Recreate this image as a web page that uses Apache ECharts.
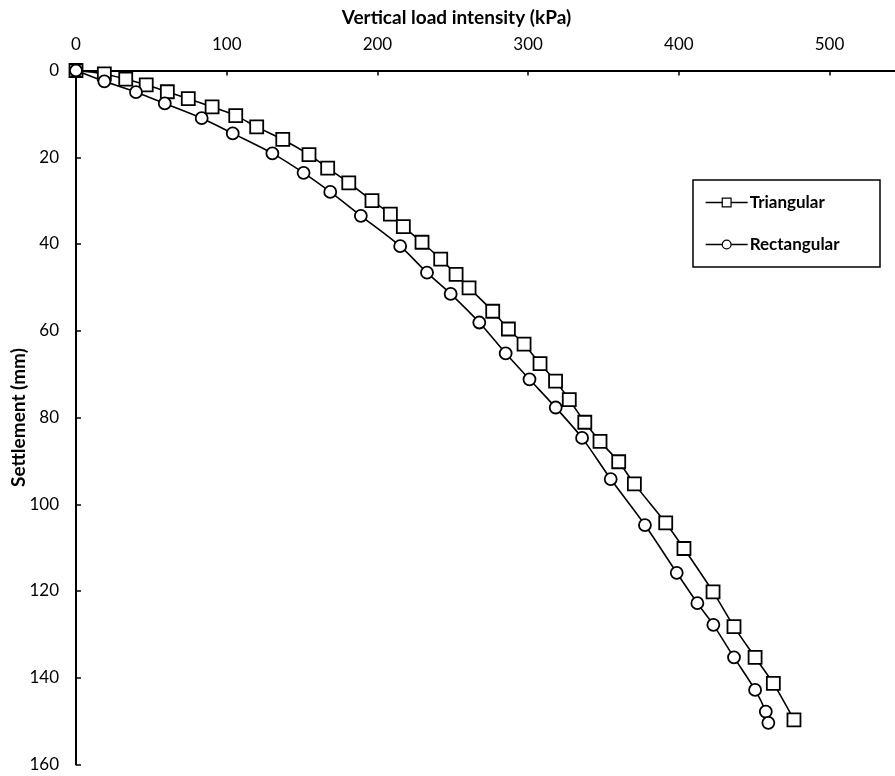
<!DOCTYPE html>
<html>
<head>
<meta charset="utf-8">
<title>Load–settlement curves</title>
<script src="https://cdn.jsdelivr.net/npm/echarts@6/dist/echarts.min.js"></script>
<style>
  html, body { margin: 0; padding: 0; background: #fff; }
  #chart { width: 895px; height: 776px; }
</style>
</head>
<body>
<div id="chart"></div>
<script>
// Triangular load distribution: vertical load (kPa) and settlement (mm)
const triLoad = [0, 18.8, 33.0, 46.6, 60.6, 74.5, 90.3, 106.0, 119.9, 137.2, 154.6, 167.0, 181.0,
  196.4, 208.6, 217.2, 229.6, 242.0, 252.2, 260.8, 276.5, 286.9, 297.3, 307.9, 318.2, 327.3,
  337.6, 347.7, 360.1, 370.5, 391.3, 403.4, 422.7, 436.6, 450.6, 462.7, 476.4];
const triSettle = [0, 0.8, 2.0, 3.3, 4.9, 6.5, 8.4, 10.4, 13.0, 15.9, 19.4, 22.5, 25.9,
  30.0, 33.1, 36.0, 39.6, 43.5, 47.0, 50.1, 55.5, 59.6, 63.1, 67.6, 71.6, 75.9,
  81.1, 85.5, 90.2, 95.3, 104.3, 110.2, 120.2, 128.2, 135.3, 141.3, 149.7];

// Rectangular load distribution
const recLoad = [0, 18.8, 39.8, 58.9, 83.4, 104.0, 130.3, 151.0, 168.7, 189.0, 215.1, 232.9,
  248.6, 267.6, 285.1, 300.9, 318.3, 335.8, 354.8, 377.5, 398.6, 412.3, 422.9, 436.6,
  450.6, 457.7, 459.4];
const recSettle = [0, 2.5, 5.0, 7.6, 11.0, 14.5, 19.1, 23.6, 28.0, 33.5, 40.5, 46.6,
  51.5, 58.1, 65.2, 71.2, 77.7, 84.7, 94.2, 104.8, 115.8, 122.8, 127.8, 135.3,
  142.8, 147.8, 150.4];

const seriesNames = ['Triangular', 'Rectangular'];
const xTicks = [0, 100, 200, 300, 400, 500];
const yTicks = [0, 20, 40, 60, 80, 100, 120, 140, 160];
const xTitle = 'Vertical load intensity (kPa)';
const yTitle = 'Settlement (mm)';

const pairs = (xs, ys) => xs.map((x, i) => [x, ys[i]]);

const FONT = 'Lato, "Open Sans", sans-serif';

const chart = echarts.init(document.getElementById('chart'), null, { renderer: 'canvas' });

const markerStyle = { color: '#fff', borderColor: '#000', borderWidth: 1.8 };
const lineStyle = { color: '#000', width: 1.6 };

chart.setOption({
  animation: false,
  backgroundColor: '#fff',
  grid: {
    left: 76, top: 70.5, width: 828.9, height: 694,
    containLabel: false,
    outerBoundsMode: 'none'
  },
  xAxis: {
    type: 'value',
    position: 'top',
    min: 0,
    max: 550,
    interval: 100,
    name: xTitle,
    nameLocation: 'middle',
    nameGap: 43,
    nameMoveOverlap: false,
    nameTextStyle: { fontFamily: FONT, fontWeight: 'bold', fontSize: 19, color: '#000', padding: [0, 68, 0, 0] },
    axisLine: { show: true, onZero: false, lineStyle: { color: '#000', width: 2 } },
    axisTick: { show: true, inside: true, length: 5, lineStyle: { color: '#000', width: 1.5 } },
    axisLabel: {
      fontFamily: FONT, fontSize: 17, color: '#000', margin: 17,
      showMaxLabel: false,
      formatter: v => (xTicks.includes(v) ? String(v) : '')
    },
    splitLine: { show: false }
  },
  yAxis: {
    type: 'value',
    inverse: true,
    min: 0,
    max: 160,
    interval: 20,
    name: yTitle,
    nameLocation: 'middle',
    nameGap: 48,
    nameMoveOverlap: false,
    nameTextStyle: { fontFamily: FONT, fontWeight: 'bold', fontSize: 19, color: '#000' },
    axisLine: { show: true, onZero: false, lineStyle: { color: '#000', width: 2 } },
    axisTick: { show: true, inside: true, length: 5, lineStyle: { color: '#000', width: 1.5 } },
    axisLabel: {
      fontFamily: FONT, fontSize: 17, color: '#000', margin: 17,
      formatter: v => (yTicks.includes(v) ? String(v) : '')
    },
    splitLine: { show: false }
  },
  legend: {
    orient: 'vertical',
    left: 705,
    top: 194,
    padding: 0,
    itemWidth: 42,
    itemHeight: 11,
    itemGap: 25,
    data: seriesNames,
    textStyle: { fontFamily: FONT, fontWeight: 'bold', fontSize: 17, color: '#000', padding: [0, 0, 0, -3] },
    itemStyle: { color: '#fff', borderColor: '#000', borderWidth: 1.2 },
    lineStyle: { color: '#000', width: 1.3 }
  },
  graphic: [{
    type: 'rect',
    shape: { x: 693, y: 180, width: 187, height: 87 },
    style: { fill: 'none', stroke: '#000', lineWidth: 1.5 },
    z: 10
  }],
  series: [
    {
      name: seriesNames[0],
      type: 'line',
      data: pairs(triLoad, triSettle),
      smooth: 0.3,
      symbol: 'rect',
      symbolSize: 13,
      showAllSymbol: true,
      itemStyle: markerStyle,
      lineStyle: lineStyle,
      z: 2
    },
    {
      name: seriesNames[1],
      type: 'line',
      data: pairs(recLoad, recSettle),
      smooth: 0.3,
      symbol: 'circle',
      symbolSize: 12,
      showAllSymbol: true,
      itemStyle: markerStyle,
      lineStyle: lineStyle,
      z: 3
    }
  ]
});
</script>
</body>
</html>
